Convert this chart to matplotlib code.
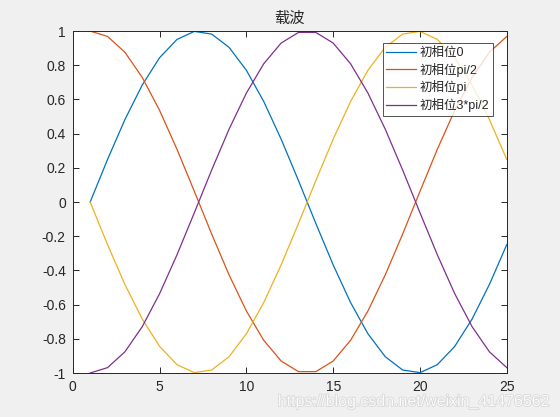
import matplotlib
matplotlib.use("Agg")
import matplotlib.pyplot as plt
import matplotlib.patheffects as pe

plt.rcParams['font.family'] = ['Liberation Sans', 'Noto Sans CJK SC', 'DejaVu Sans']

x = list(range(1, 26))
phase0 = [0.0, 0.2487, 0.4818, 0.6845, 0.8443, 0.9511, 0.9980, 0.9823, 0.9048, 0.7705,
          0.5878, 0.3681, 0.1253, -0.1253, -0.3681, -0.5878, -0.7705, -0.9048, -0.9823,
          -0.9980, -0.9511, -0.8443, -0.6845, -0.4818, -0.2487]
phase_half_pi = [1.0, 0.9686, 0.8763, 0.7290, 0.5358, 0.3090, 0.0628, -0.1874, -0.4258,
                 -0.6374, -0.8090, -0.9298, -0.9921, -0.9921, -0.9298, -0.8090, -0.6374,
                 -0.4258, -0.1874, 0.0628, 0.3090, 0.5358, 0.7290, 0.8763, 0.9686]
phase_pi = [0.0, -0.2487, -0.4818, -0.6845, -0.8443, -0.9511, -0.9980, -0.9823, -0.9048,
            -0.7705, -0.5878, -0.3681, -0.1253, 0.1253, 0.3681, 0.5878, 0.7705, 0.9048,
            0.9823, 0.9980, 0.9511, 0.8443, 0.6845, 0.4818, 0.2487]
phase_3half_pi = [-1.0, -0.9686, -0.8763, -0.7290, -0.5358, -0.3090, -0.0628, 0.1874,
                  0.4258, 0.6374, 0.8090, 0.9298, 0.9921, 0.9921, 0.9298, 0.8090, 0.6374,
                  0.4258, 0.1874, -0.0628, -0.3090, -0.5358, -0.7290, -0.8763, -0.9686]
labels = ['初相位0', '初相位pi/2', '初相位pi', '初相位3*pi/2']
colors = ['#0072BD', '#D95319', '#EDB120', '#7E2F8E']
title = '载波'
xticks = [0, 5, 10, 15, 20, 25]
yticks = [-1, -0.8, -0.6, -0.4, -0.2, 0, 0.2, 0.4, 0.6, 0.8, 1]
ytick_labels = ['-1', '-0.8', '-0.6', '-0.4', '-0.2', '0', '0.2', '0.4', '0.6', '0.8', '1']

axc = '#262626'
fig = plt.figure(figsize=(5.6, 4.17), dpi=100, facecolor='#f0f0f0')
ax = fig.add_axes([0.130, 0.1055, 0.775, 0.820])
for ys, c, lab in zip([phase0, phase_half_pi, phase_pi, phase_3half_pi], colors, labels):
    ax.plot(x, ys, color=c, lw=0.9, label=lab)
ax.set_xlim(0, 25)
ax.set_ylim(-1, 1)
ax.set_xticks(xticks)
ax.set_xticklabels([str(t) for t in xticks])
ax.set_yticks(yticks)
ax.set_yticklabels(ytick_labels)
ax.tick_params(direction='in', length=4, width=0.7, top=True, right=True,
               labelsize=10, colors=axc, pad=5)
for s in ax.spines.values():
    s.set_color(axc)
    s.set_linewidth(0.7)
ax.set_title(title, fontsize=11, color=axc, pad=6)
leg = ax.legend(loc='upper right', bbox_to_anchor=(0.968, 0.965), fontsize=9,
                frameon=True, fancybox=False, handlelength=2.4, handletextpad=0.25,
                borderpad=0.3, labelspacing=0.3, borderaxespad=0.0)
leg.get_frame().set_edgecolor(axc)
leg.get_frame().set_linewidth(0.7)
for t in leg.get_texts():
    t.set_color(axc)

fig.text(0.496, 0.037, 'https://blog.csdn.net/weixin_41476562', fontsize=11.5,
         color='#fafafa', ha='left', va='center',
         path_effects=[pe.withStroke(linewidth=1.2, foreground='#d8d8d8')])

fig.savefig('out.png', dpi=100, facecolor=fig.get_facecolor())
